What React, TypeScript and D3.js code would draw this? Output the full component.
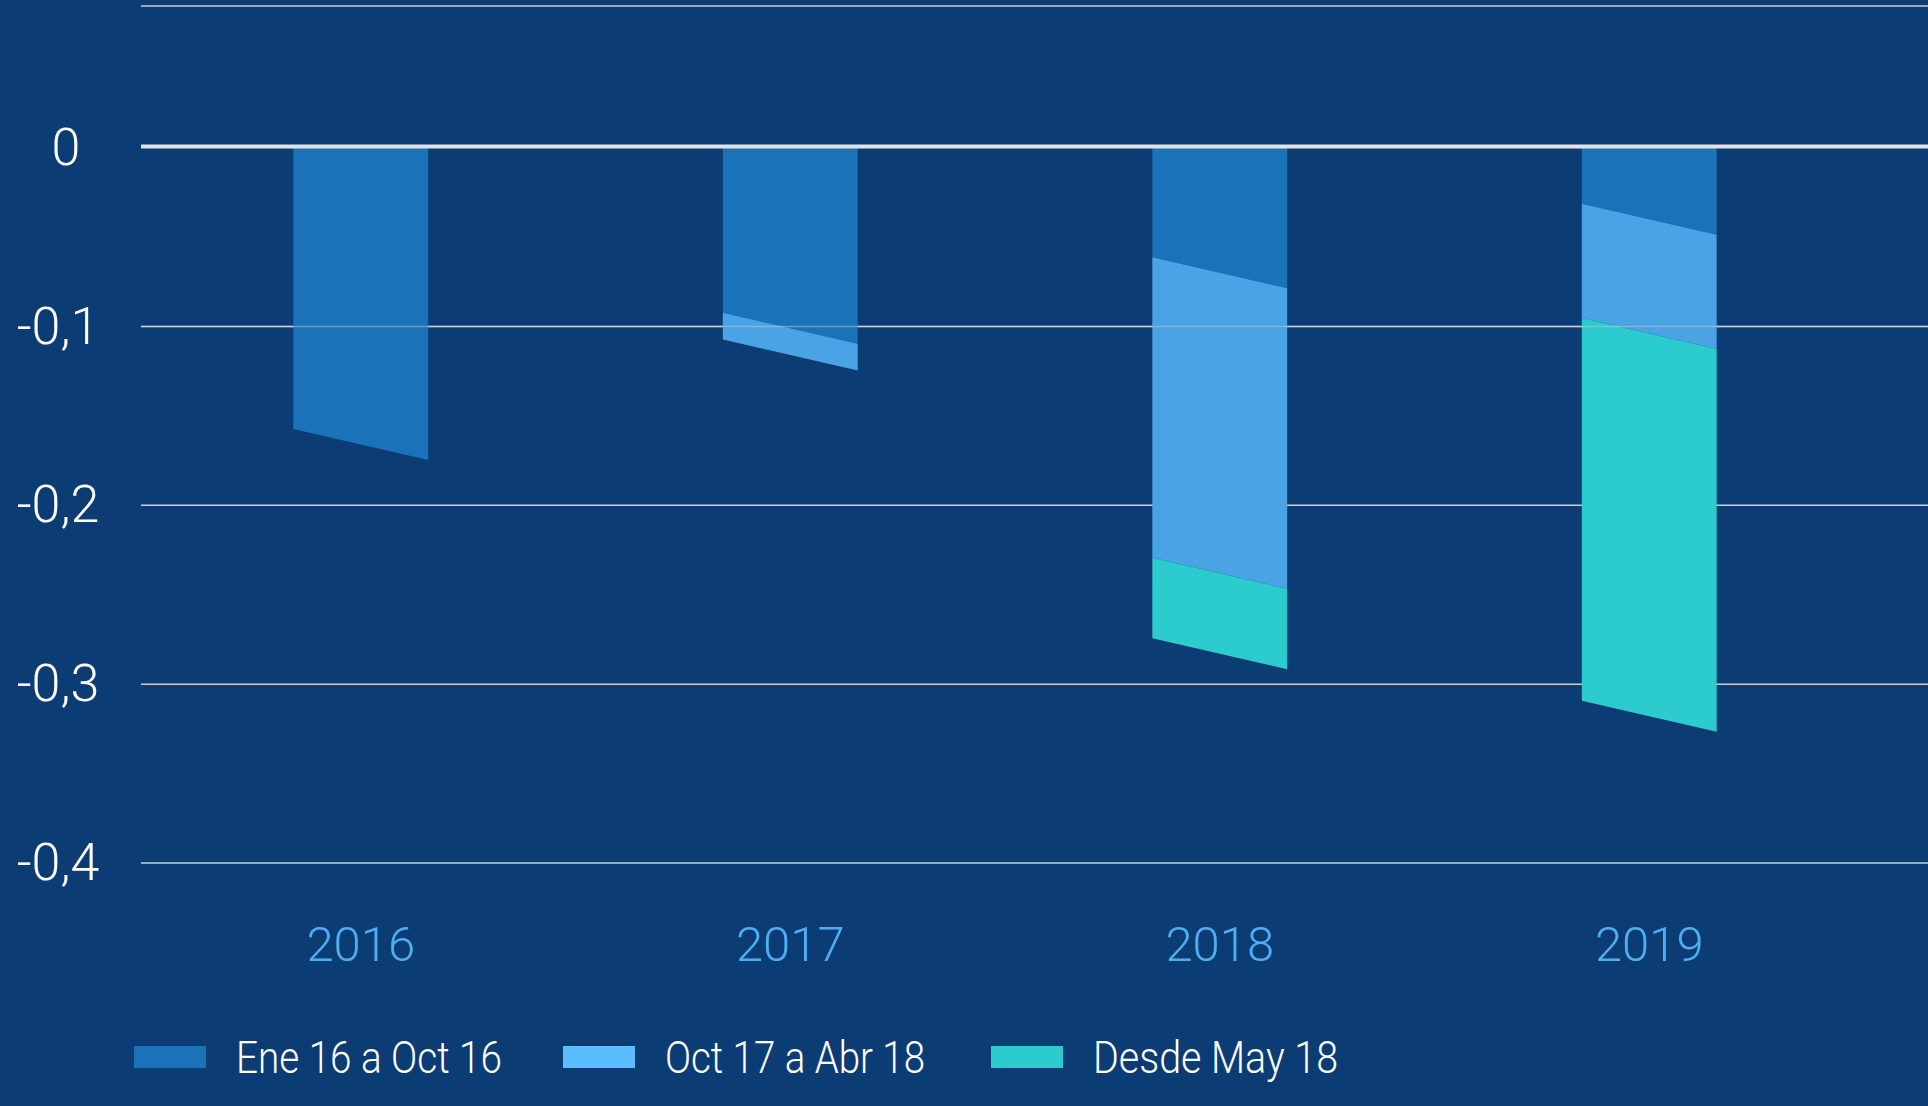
import React, { useEffect, useRef } from 'react';
import * as d3 from 'd3';

const years = ['2016', '2017', '2018', '2019'];
const seriesNames = ['Ene 16 a Oct 16', 'Oct 17 a Abr 18', 'Desde May 18'];
const ene16Oct16 = [-0.166, -0.101, -0.070, -0.040];
const oct17Abr18 = [0, -0.015, -0.168, -0.064];
const desdeMay18 = [0, 0, -0.045, -0.214];
const yTicks = [0, -0.1, -0.2, -0.3, -0.4];

const barColors = ['#1a73b9', '#49a3e5', '#2ccbcd'];
const legendColors = ['#1b72b8', '#5cbdfe', '#2ccbcd'];

const App = () => {
  const svgRef = useRef<SVGSVGElement | null>(null);

  useEffect(() => {
    document.body.style.margin = '0';
    const width = 1928;
    const height = 1106;
    const marginTop = 6;
    const marginLeft = 141;
    const skew = 31;

    const svg = d3.select(svgRef.current);
    svg.selectAll('*').remove();
    svg.attr('width', width).attr('height', height).attr('viewBox', [0, 0, width, height]);

    svg.append('rect').attr('width', width).attr('height', height).attr('fill', '#0c3c74');

    const x = d3.scaleBand().domain(years).range([146, 1864]).paddingInner(0.686).paddingOuter(0.343);
    const y = d3.scaleLinear().domain([0, -0.4]).range([147.6, 863]);

    const rows = years.map((yr, i) => ({
      year: yr,
      [seriesNames[0]]: ene16Oct16[i],
      [seriesNames[1]]: oct17Abr18[i],
      [seriesNames[2]]: desdeMay18[i],
    }));
    const stacked = d3.stack<any>().keys(seriesNames).offset(d3.stackOffsetDiverging)(rows);

    // grid
    const grid = svg.append('g');
    grid.append('line')
      .attr('x1', marginLeft).attr('x2', width)
      .attr('y1', marginTop).attr('y2', marginTop)
      .attr('stroke', '#c9ced6').attr('stroke-width', 1.5);
    grid.selectAll('line.tick')
      .data(yTicks.filter(t => t !== 0))
      .enter().append('line')
      .attr('class', 'tick')
      .attr('x1', marginLeft).attr('x2', width)
      .attr('y1', d => y(d)).attr('y2', d => y(d))
      .attr('stroke', '#c9ced6').attr('stroke-width', 1.5);

    // bars with slanted boundaries
    const half = skew / 2;
    const bars = svg.append('g');
    stacked.forEach((layer, k) => {
      layer.forEach((seg, i) => {
        const v0 = seg[1];
        const v1 = seg[0];
        if (Math.abs(v0 - v1) < 1e-9) return;
        const x0 = x(years[i])!;
        const x1 = x0 + x.bandwidth();
        const topL = v0 === 0 ? y(0) : y(v0) - half;
        const topR = v0 === 0 ? y(0) : y(v0) + half;
        const botL = y(v1) - half;
        const botR = y(v1) + half;
        bars.append('path')
          .attr('d', `M${x0},${topL}L${x1},${topR}L${x1},${botR}L${x0},${botL}Z`)
          .attr('fill', barColors[k]);
      });
    });

    // -0,1 grid line shows through the bars
    svg.append('line')
      .attr('x1', marginLeft).attr('x2', width)
      .attr('y1', y(-0.1)).attr('y2', y(-0.1))
      .attr('stroke', '#c9ced6').attr('stroke-width', 1.5).attr('opacity', 0.45);

    // zero line
    svg.append('line')
      .attr('x1', marginLeft).attr('x2', width)
      .attr('y1', y(0) - 1).attr('y2', y(0) - 1)
      .attr('stroke', '#e2e2e2').attr('stroke-width', 4);

    // y labels
    svg.append('g')
      .selectAll('text')
      .data(yTicks)
      .enter().append('text')
      .attr('x', d => d === 0 ? 66 : 58)
      .attr('y', d => y(d))
      .attr('dy', '0.33em')
      .attr('text-anchor', 'middle')
      .attr('fill', '#ffffff')
      .attr('font-family', 'Roboto, sans-serif')
      .attr('font-weight', 300)
      .attr('font-size', 52)
      .text(d => d === 0 ? '0' : d3.format('.1f')(d).replace('.', ',').replace('−', '-'));

    // x labels
    svg.append('g')
      .selectAll('text')
      .data(years)
      .enter().append('text')
      .attr('x', d => x(d)! + x.bandwidth() / 2)
      .attr('y', 961)
      .attr('text-anchor', 'middle')
      .attr('fill', '#4eaef0')
      .attr('font-family', 'Roboto, sans-serif')
      .attr('font-weight', 300)
      .attr('font-size', 49)
      .text(d => d);

    // legend
    const legendX = [134, 563, 991];
    const legendTextLen = [266, 260, 245];
    const legend = svg.append('g');
    seriesNames.forEach((name, k) => {
      legend.append('rect')
        .attr('x', legendX[k]).attr('y', 1046)
        .attr('width', 72).attr('height', 22)
        .attr('fill', legendColors[k]);
      legend.append('text')
        .attr('x', legendX[k] + 102).attr('y', 1073)
        .attr('fill', '#ffffff')
        .attr('font-family', 'Roboto, sans-serif')
        .attr('font-weight', 300)
        .attr('font-size', 44)
        .attr('textLength', legendTextLen[k])
        .attr('lengthAdjust', 'spacingAndGlyphs')
        .text(name);
    });
  }, []);

  return (
    <div>
      <svg ref={svgRef}></svg>
    </div>
  );
};

export default App;
